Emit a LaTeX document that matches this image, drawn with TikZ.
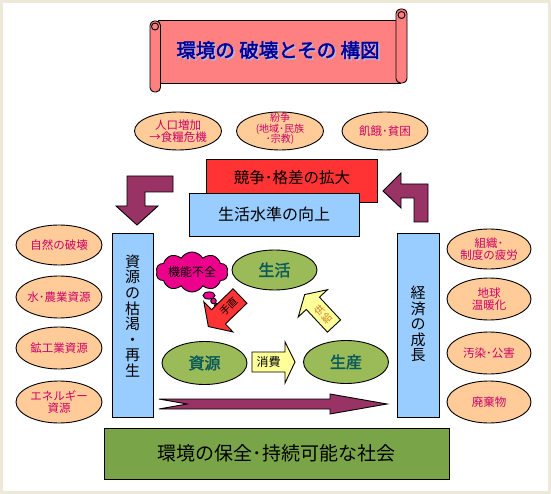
\documentclass[tikz,border=0pt]{standalone}
\usepackage{fontspec}
\setmainfont{Noto Sans CJK JP}
\newfontfamily\jpbold[FakeBold=2]{Noto Sans CJK JP}
\usetikzlibrary{shapes.geometric,shapes.symbols}
\definecolor{framec}{HTML}{ECE9D8}
\definecolor{scrollfill}{HTML}{FF8080}
\definecolor{titleblue}{HTML}{000099}
\definecolor{titleshadow}{HTML}{B4B4DC}
\definecolor{peach}{HTML}{FFCC99}
\definecolor{crim}{HTML}{CC0066}
\definecolor{redbox}{HTML}{FF3333}
\definecolor{bluebox}{HTML}{99CCFF}
\definecolor{plum}{HTML}{993366}
\definecolor{olivec}{HTML}{9BBB59}
\definecolor{tealtext}{HTML}{0A5A5A}
\definecolor{lyellow}{HTML}{FFFF99}
\definecolor{supplytext}{HTML}{CC7722}
\definecolor{bottomgreen}{HTML}{79A548}
\tikzset{
  peachell/.style={ellipse, draw=black, fill=peach, minimum width=86, minimum height=40, inner sep=0},
  peachtext/.style={text=crim, align=center, inner sep=0, font=\fontsize{11.5}{12}\selectfont},
  greenell/.style={ellipse, draw=black, fill=olivec, minimum width=85, minimum height=42, inner sep=0},
  greentext/.style={text=tealtext, inner sep=0, font=\jpbold\fontsize{16}{16}\selectfont},
  boxc/.style={draw=black, inner sep=0},
  vtext/.style={align=center, inner sep=0, font=\fontsize{15}{15.6}\selectfont},
  bentarrow/.style={draw=black, fill=plum},
}
\begin{document}
\begin{tikzpicture}[x=1pt, y=-1pt, line width=0.9pt]
\useasboundingbox (0,0) rectangle (551,494);
\fill[framec] (0,0) rectangle (551,494);
\fill[white] (3,3) rectangle (548,491);

% scroll banner
\draw[fill=scrollfill] (158,20) rectangle (400,83);
\draw[fill=scrollfill, rounded corners=4.5] (396,9) rectangle (407,83);
\draw[fill=scrollfill] (401.5,15) circle (3.5);
\draw[fill=scrollfill, rounded corners=4.5] (150,21) rectangle (160.5,92);
\draw[fill=scrollfill] (155,26.5) circle (3.5);
\node[text=titleshadow, font=\jpbold\fontsize{19.5}{19.5}\selectfont, inner sep=0] (titlesh) at (279.5,51.5) {環境の 破壊とその 構図};
\node[text=titleblue, font=\jpbold\fontsize{19.5}{19.5}\selectfont, inner sep=0] (title) at (278,50) {環境の 破壊とその 構図};

% top ellipses
\node[peachell, minimum width=87, minimum height=38] (e1) at (178,131) {};
\node[peachtext] (e1t) at (e1) {人口増加\\→食糧危機};
\node[peachell, minimum width=87, minimum height=38] (e2) at (280,131) {};
\node[peachtext, font=\fontsize{10}{10.5}\selectfont] (e2t) at (280,129) {紛争\\(地域･民族\\･宗教)};
\node[peachell, minimum width=86, minimum height=38] (e3) at (385,131) {};
\node[peachtext] (e3t) at (e3) {飢餓･貧困};

% left ellipses
\node[peachell] (l1) at (59,245) {};
\node[peachtext] (l1t) at (l1) {自然の破壊};
\node[peachell, minimum height=42] (l2) at (59,297) {};
\node[peachtext] (l2t) at (l2) {水･農業資源};
\node[peachell, minimum height=42] (l3) at (59,348) {};
\node[peachtext] (l3t) at (l3) {鉱工業資源};
\node[peachell, minimum height=42] (l4) at (59,402) {};
\node[peachtext] (l4t) at (l4) {エネルギー\\資源};

% right ellipses
\node[peachell, minimum width=84] (r1) at (489,249) {};
\node[peachtext] (r1t) at (r1) {組織･\\制度の疲労};
\node[peachell, minimum width=84, minimum height=42] (r2) at (489,299) {};
\node[peachtext] (r2t) at (r2) {地球\\温暖化};
\node[peachell, minimum width=84, minimum height=42] (r3) at (489,353) {};
\node[peachtext] (r3t) at (r3) {汚染･公害};
\node[peachell, minimum width=84, minimum height=42] (r4) at (489,402) {};
\node[peachtext] (r4t) at (r4) {廃棄物};

% bent arrows
\draw[bentarrow] (127,176) -- (173,176) -- (173,192) -- (145,192) -- (145,206) -- (158,206) -- (137,225) -- (116,206) -- (127,206) -- cycle;
\draw[bentarrow] (383,191) -- (401,173) -- (401,184) -- (428,184) -- (428,222) -- (414,222) -- (414,198) -- (401,198) -- (401,208) -- cycle;

% red and blue boxes
\node[boxc, fill=redbox, minimum width=171, minimum height=43] (compete) at (291.5,180.5) {};
\node[inner sep=0, font=\fontsize{15.5}{15.5}\selectfont] (competet) at (292,178) {競争･格差の拡大};
\node[boxc, fill=bluebox, minimum width=170, minimum height=43, font=\fontsize{16}{16}\selectfont] (living) at (274,214.5) {生活水準の向上};

% vertical boxes
\node[boxc, fill=bluebox, minimum width=41, minimum height=184] (resbox) at (132.5,325) {};
\node[vtext] (resboxt) at (132.5,316) {資\\源\\の\\枯\\渇\\・\\再\\生};
\node[boxc, fill=bluebox, minimum width=42, minimum height=184] (econbox) at (418,325) {};
\node[vtext] (econboxt) at (418,324) {経\\済\\の\\成\\長};

% cloud
\node[cloud, cloud puffs=10, cloud puff arc=120, aspect=1.9, draw=black, fill=magenta, minimum width=72, minimum height=40, inner sep=0] (cloud) at (192,272) {};
\node[inner sep=0, font=\fontsize{12}{12}\selectfont] (cloudt) at (192,272) {機能不全};
\draw[fill=magenta] (209,295.5) ellipse (6 and 3.6);
\draw[fill=magenta] (213.5,301) circle (2.8);
\draw[fill=magenta] (216.5,305.5) circle (2);

% center ellipses
\node[greenell, minimum height=40] (life) at (274.5,270) {};
\node[greentext] (lifet) at (life) {生活};
\node[greenell, minimum height=43] (resource) at (204.5,363) {};
\node[greentext] (resourcet) at (resource) {資源};
\node[greenell, minimum height=43] (product) at (346,362) {};
\node[greentext] (productt) at (product) {生産};

% consume arrow
\draw[fill=lyellow] (252,352) -- (285,352) -- (285,342) -- (295,362) -- (285,383) -- (285,372) -- (252,372) -- cycle;
\node[inner sep=0, font=\fontsize{12}{12}\selectfont] (consume) at (268.5,362) {消費};

% fix arrow
\begin{scope}[shift={(240,296)}, rotate=224]
\draw[fill=redbox] (0,-10) -- (30,-10) -- (30,-21) -- (44,0) -- (30,21) -- (30,10) -- (0,10) -- cycle;
\node[rotate=44, inner sep=0, font=\fontsize{10.5}{10.5}\selectfont] (fix) at (15,0) {手直};
\end{scope}

% supply arrow
\begin{scope}[shift={(334,326)}, rotate=133]
\draw[fill=lyellow] (0,-9) -- (31,-9) -- (31,-20) -- (43,0) -- (31,20) -- (31,9) -- (0,9) -- cycle;
\node[rotate=43, inner sep=0, align=center, text=supplytext, font=\fontsize{10}{10.5}\selectfont] (supply) at (16,0) {供\\給};
\end{scope}

% long arrow
\draw[fill=plum] (159,399) -- (330,399) -- (330,394) -- (387,404) -- (330,414) -- (330,409) -- (159,409) -- (187,404) -- cycle;

% bottom box
\node[boxc, fill=bottomgreen, minimum width=345, minimum height=51, font=\fontsize{19}{19}\selectfont] (society) at (276.5,453.5) {環境の保全･持続可能な社会};
\end{tikzpicture}
\end{document}
